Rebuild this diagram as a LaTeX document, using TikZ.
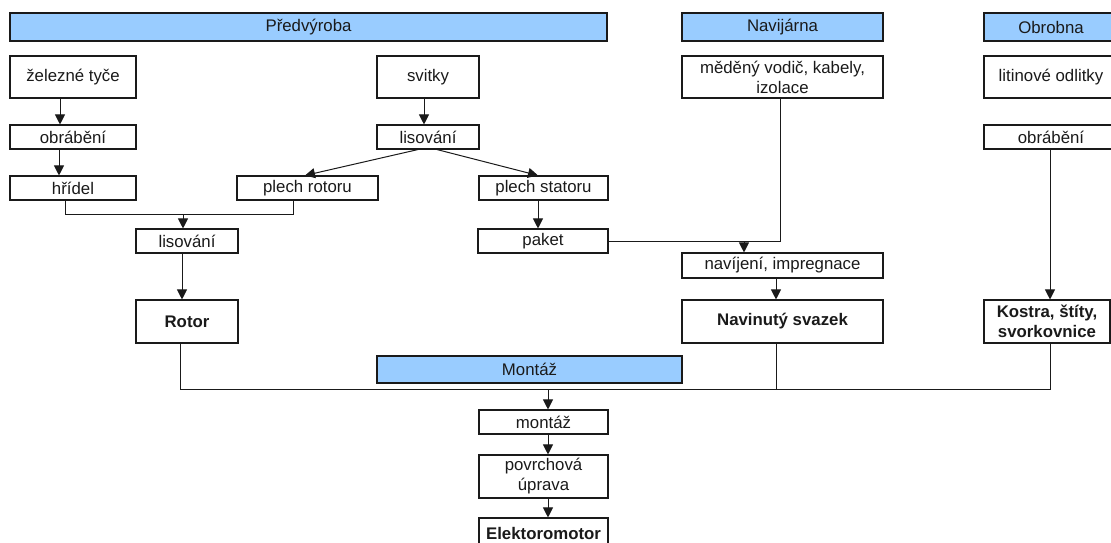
\documentclass[tikz,border=0pt]{standalone}
\usepackage{fontspec}
\setmainfont{Liberation Sans}
\usetikzlibrary{arrows.meta,calc}
\definecolor{barblue}{HTML}{99CCFF}
\definecolor{ink}{HTML}{1A1A1A}
\begin{document}
\begin{tikzpicture}[x=1pt,y=-1pt,
  every node/.style={font=\fontsize{16.8}{20}\selectfont, text=ink, inner sep=0pt, align=center},
  box/.style={draw=ink, line width=1.1pt, fill=white, rectangle, minimum height=24pt},
  bar/.style={draw=ink, line width=1.1pt, fill=barblue, rectangle, minimum height=28pt},
  bbox/.style={box, font=\fontsize{16.8}{20}\selectfont\bfseries},
  conn/.style={draw=ink, line width=1pt},
  arr/.style={conn, -{Triangle[width=10pt,length=10pt]}}]
\useasboundingbox (0,0) rectangle (1111,542);
\clip (0,0) rectangle (1111,542);
\fill[white] (0,0) rectangle (1111,542);
% header bars
\node[bar, minimum width=597pt] (hpre) at (308.5,27) {Předvýroba};
\node[bar, minimum width=201pt] (hnav) at (782.5,27) {Navijárna};
\node[bar, minimum width=134pt] (hobr) at (1051,27) {Obrobna};
% Předvýroba
\node[box, minimum width=126pt, minimum height=42pt] (zel) at (73,77) {železné tyče};
\node[box, minimum width=126pt] (obr1) at (73,137) {obrábění};
\node[box, minimum width=126pt] (hridel) at (73,188) {hřídel};
\node[box, minimum width=141pt] (plechr) at (307.5,188) {plech rotoru};
\node[box, minimum width=102pt, minimum height=42pt] (svitky) at (428,77) {svitky};
\node[box, minimum width=102pt] (lis1) at (428,137) {lisování};
\node[box, minimum width=129pt] (plechs) at (543.5,188) {plech statoru};
\node[box, minimum width=102pt] (lis2) at (187,241) {lisování};
\node[bbox, minimum width=102pt, minimum height=43pt] (rotor) at (187,321.5) {Rotor};
\node[box, minimum width=130pt] (paket) at (543,241) {paket};
% Navijárna
\node[box, minimum width=201pt, minimum height=42pt] (med) at (782.5,77) {měděný vodič, kabely,\\izolace};
\node[box, minimum width=201pt, minimum height=25pt] (nav) at (782.5,265.5) {navíjení, impregnace};
\node[bbox, minimum width=201pt, minimum height=43pt] (svazek) at (782.5,321.5) {Navinutý svazek};
% Obrobna
\node[box, minimum width=134pt, minimum height=42pt] (lit) at (1051,77) {litinové odlitky};
\node[box, minimum width=134pt] (obr2) at (1051,137) {obrábění};
\node[bbox, minimum width=126pt, minimum height=43pt] (kostra) at (1047,321.5) {Kostra, štíty,\\svorkovnice};
% Montáž
\node[bar, minimum width=305pt, minimum height=27pt] (hmon) at (529.5,369.5) {Montáž};
\node[box, minimum width=129pt] (montaz) at (543.5,422) {montáž};
\node[box, minimum width=129pt, minimum height=43pt] (povrch) at (543.5,476.5) {povrchová\\úprava};
\node[bbox, minimum width=129pt, minimum height=30pt] (elektro) at (543.5,533) {Elektoromotor};
% junction coordinates
\coordinate (jr) at (0,214);
\coordinate (jp) at (780,241);
\coordinate (jm) at (0,389);
% connectors Předvýroba
\draw[arr] (zel.south -| 60,0) -- (obr1.north -| 60,0);
\draw[arr] (obr1.south -| 59,0) -- (hridel.north -| 59,0);
\draw[arr] (svitky.south -| 424,0) -- (lis1.north -| 424,0);
\draw[arr] (lis1.south -| 418,0) -- (plechr.north -| 305,0);
\draw[arr] (lis1.south -| 437,0) -- (plechs.north -| 538,0);
\draw[conn] (hridel.south -| 65,0) -- (jr -| 65,0) -- (jr -| 293,0) -- (plechr.south -| 293,0);
\draw[arr] (jr -| 183,0) -- (lis2.north -| 183,0);
\draw[arr] (lis2.south -| 182,0) -- (rotor.north -| 182,0);
\draw[arr] (plechs.south -| 538,0) -- (paket.north -| 538,0);
% Navijárna
\draw[conn] (paket.east) -- (paket.east -| jp) -- (med.south -| jp);
\draw[arr] (paket.east -| 744,0) -- (nav.north -| 744,0);
\draw[arr] (nav.south -| 776,0) -- (svazek.north -| 776,0);
% Obrobna
\draw[arr] (obr2.south -| 1050,0) -- (kostra.north -| 1050,0);
% collection to Montáž
\draw[conn] (rotor.south -| 180,0) -- (jm -| 180,0) -- (jm -| 1050,0) -- (kostra.south -| 1050,0);
\draw[conn] (svazek.south -| 776,0) -- (jm -| 776,0);
\draw[arr] (jm -| 548,0) -- (montaz.north -| 548,0);
\draw[arr] (montaz.south -| 548,0) -- (povrch.north -| 548,0);
\draw[arr] (povrch.south -| 548,0) -- (elektro.north -| 548,0);
\end{tikzpicture}
\end{document}
